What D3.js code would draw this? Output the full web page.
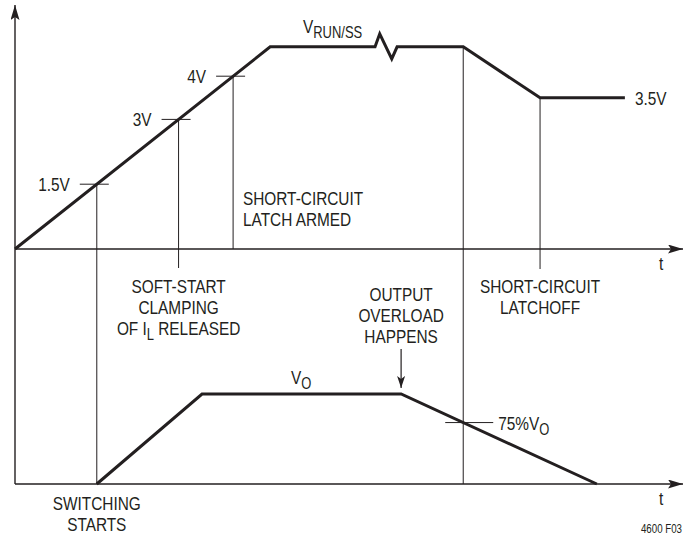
<!DOCTYPE html>
<html lang="en">
<head>
<meta charset="UTF-8">
<title>RUN/SS and V_O timing</title>
<script src="https://d3js.org/d3.v7.min.js"></script>
<style>
  body { margin: 0; background: #fff; }
  svg text { font-family: 'Liberation Sans', Arial, sans-serif; fill: #231f20; font-size: 19px; }
</style>
</head>
<body>
<div id="chart"></div>
<script>
// time in arbitrary units, voltages in volts
const runTimes  = [0, 3.82, 5.39, 5.46, 5.64, 5.72, 6.71, 7.86, 9.13];
const runVolts  = [0, 4.68, 4.68, 4.98, 4.40, 4.68, 4.68, 3.5, 3.5];
const thresholds = [1.5, 3, 4];
const thresholdLabels = ['1.5V', '3V', '4V'];
const latchLevel = 3.5;
// output voltage as a fraction of V_O
const outTimes = [1.224, 2.80, 5.78, 8.71];
const outLevel = [0, 1, 1, 0];
const overloadTime = 5.78;
const latchoffTime = 6.71;
const latchedTime = 7.86;

const W = 691, H = 538;
const ink = '#231f20';
const squeeze = 0.81; // no condensed face installed, so squash Liberation Sans
const x = d3.scaleLinear().domain([0, 10]).range([15, 683]);
const yTop = d3.scaleLinear().domain([0, 5]).range([249, 33]);
const yBot = d3.scaleLinear().domain([0, 1]).range([484, 394]);

const svg = d3.select('#chart').append('svg')
  .attr('width', W).attr('height', H);

const defs = svg.append('defs');
defs.append('marker').attr('id', 'arr')
  .attr('viewBox', '0 0 15 9').attr('refX', 15).attr('refY', 4.5)
  .attr('markerWidth', 15).attr('markerHeight', 9)
  .attr('markerUnits', 'userSpaceOnUse').attr('orient', 'auto')
  .append('path').attr('d', 'M0,0 L15,4.5 L0,9 L3,4.5 Z').attr('fill', ink);
defs.append('marker').attr('id', 'arrSmall')
  .attr('viewBox', '0 0 8 12').attr('refX', 4).attr('refY', 12)
  .attr('markerWidth', 8).attr('markerHeight', 12)
  .attr('markerUnits', 'userSpaceOnUse').attr('orient', '0')
  .append('path').attr('d', 'M0,0 L4,3 L8,0 L4,12 Z').attr('fill', ink);

function line(x1, y1, x2, y2, w) {
  return svg.append('line')
    .attr('x1', x1).attr('y1', y1).attr('x2', x2).attr('y2', y2)
    .attr('stroke', ink).attr('stroke-width', w);
}

// text helper: parts are strings or [text] for a subscript
function label(px, py, parts, anchor, size) {
  const t = svg.append('g')
    .attr('transform', `translate(${px},${py}) scale(${squeeze},1)`)
    .append('text').attr('text-anchor', anchor || 'start');
  if (size) t.style('font-size', size + 'px');
  let shifted = 0;
  parts.forEach(p => {
    const sp = t.append('tspan');
    if (Array.isArray(p)) {
      sp.style('font-size', '16px').attr('dy', 5 - shifted).text(p[0]);
      shifted = 5;
    } else {
      sp.attr('dy', -shifted).text(p);
      shifted = 0;
    }
  });
  return t;
}
function block(lines, cx, y0, anchor) {
  lines.forEach((s, i) => label(cx, y0 + i * 21, [s], anchor || 'middle'));
}

// axes
line(x(0), yBot(0), x(0), 5, 1.4).attr('marker-end', 'url(#arr)');
line(x(0), yTop(0), x(10), yTop(0), 1.4).attr('marker-end', 'url(#arr)');
line(x(0), yBot(0), x(10), yBot(0), 1.4).attr('marker-end', 'url(#arr)');
label(x(10) - 24, yTop(0) + 21, ['t']);
label(x(10) - 24, yBot(0) + 21, ['t']);

// crossing times of the soft-start ramp
const rampT = v => runTimes[0] + (runTimes[1] - runTimes[0]) * v / runVolts[1];

// thin guide lines
const guideEnd = [yBot(0), yTop(0) + 19, yTop(0)];
thresholds.forEach((v, i) => {
  const tx = x(rampT(v)), ty = yTop(v);
  line(tx, ty, tx, guideEnd[i], 1);
  line(tx - 17, ty, tx + 12, ty, 1);
  label(tx - 27, ty + 7, [thresholdLabels[i]], 'end');
});
line(x(latchoffTime), yTop(runVolts[6]), x(latchoffTime), yBot(0), 1);
line(x(latchedTime), yTop(latchLevel), x(latchedTime), yTop(0) + 20, 1);

// 75% V_O mark: where the falling output crosses latchoff
const fall = d3.scaleLinear().domain([outTimes[2], outTimes[3]]).range([outLevel[2], outLevel[3]]);
const y75 = yBot(fall(latchoffTime));
line(x(latchoffTime) - 18, y75, x(latchoffTime) + 30, y75, 1);

// traces
const path = d3.line().x(d => x(d[0])).y(d => d[1]);
svg.append('path')
  .attr('d', path(runTimes.map((t, i) => [t, yTop(runVolts[i])])))
  .attr('fill', 'none').attr('stroke', ink).attr('stroke-width', 3);
svg.append('path')
  .attr('d', path(outTimes.map((t, i) => [t, yBot(outLevel[i])])))
  .attr('fill', 'none').attr('stroke', ink).attr('stroke-width', 3);

// overload arrow
line(x(overloadTime), 349, x(overloadTime), yBot(1) - 6, 1.2).attr('marker-end', 'url(#arrSmall)');

// labels
block(['SHORT-CIRCUIT', 'LATCH ARMED'], 243, 205, 'start');
block(['SOFT-START', 'CLAMPING'], x(rampT(3)), 293);
label(x(rampT(3)), 335, ['OF I', ['L'], ' RELEASED'], 'middle');
block(['SHORT-CIRCUIT', 'LATCHOFF'], x(latchedTime), 293);
block(['OUTPUT', 'OVERLOAD', 'HAPPENS'], x(overloadTime), 301);
block(['SWITCHING', 'STARTS'], x(outTimes[0]), 510);

label(303, 33, ['V', ['RUN/SS']]);
label(x(runTimes[8]) + 10, yTop(latchLevel) + 7, ['3.5V']);
label(291, 384, ['V', ['O']]);
label(x(latchoffTime) + 35, y75 + 7, ['75%V', ['O']]);
label(682, 533, ['4600 F03'], 'end', 12);
</script>
</body>
</html>
